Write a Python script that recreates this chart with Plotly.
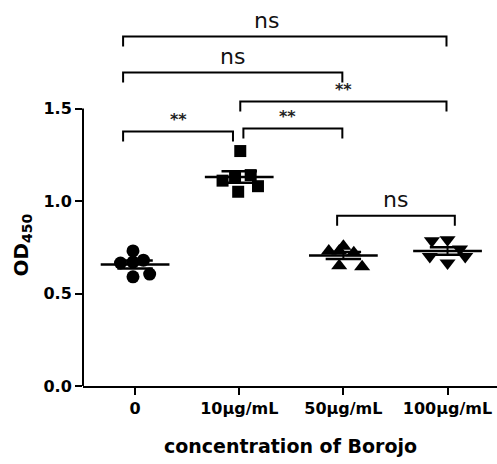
import plotly.graph_objects as go

categories = ["0", "10μg/mL", "50μg/mL", "100μg/mL"]
group0 = [0.73, 0.665, 0.67, 0.68, 0.59, 0.605]
group10 = [1.27, 1.11, 1.14, 1.08, 1.05, 1.13]
group50 = [0.755, 0.73, 0.73, 0.72, 0.65, 0.645]
group100 = [0.785, 0.79, 0.665, 0.74, 0.70, 0.70]
groups = [group0, group10, group50, group100]
jitter = [
    [-0.02, -0.14, -0.02, 0.08, -0.02, 0.14],
    [0.01, -0.16, 0.11, 0.18, -0.01, -0.04],
    [0.0, -0.14, -0.04, 0.1, -0.04, 0.18],
    [-0.15, 0.0, 0.0, 0.12, -0.17, 0.17],
]
symbols = ["circle", "square", "triangle-up", "triangle-down"]
sizes = [13, 12, 14, 14]

# brackets: (left idx, right idx, height, label, left offset, right offset, label x offset)
brackets = [
    (0, 3, 1.889, "ns", -0.115, -0.01, -0.18),
    (0, 2, 1.695, "ns", -0.115, -0.01, 0.0),
    (1, 3, 1.538, "**", 0.01, -0.01, 0.0),
    (0, 1, 1.376, "**", -0.115, -0.06, 0.0),
    (1, 2, 1.392, "**", 0.04, -0.01, -0.05),
    (2, 3, 0.92, "ns", -0.06, 0.07, 0.0),
]
drop = 0.054

FONT = "DejaVu Sans"

fig = go.Figure()
for i, vals in enumerate(groups):
    xs = [i + j for j in jitter[i]]
    fig.add_trace(go.Scatter(x=xs, y=vals, mode="markers",
                             marker=dict(symbol=symbols[i], size=sizes[i], color="black",
                                         line=dict(width=0)),
                             showlegend=False, cliponaxis=False, hoverinfo="skip"))
    n = len(vals)
    mean = sum(vals) / n
    sd = (sum((v - mean) ** 2 for v in vals) / (n - 1)) ** 0.5
    sem = sd / n ** 0.5
    fig.add_shape(type="line", x0=i - 0.33, x1=i + 0.33, y0=mean, y1=mean,
                  line=dict(color="black", width=2.5))
    fig.add_shape(type="line", x0=i, x1=i, y0=mean - sem, y1=mean + sem,
                  line=dict(color="black", width=2))
    for s in (-1, 1):
        fig.add_shape(type="line", x0=i - 0.17, x1=i + 0.17, y0=mean + s * sem, y1=mean + s * sem,
                      line=dict(color="black", width=2.5))

for a, b, h, lab, lo, ro, lx in brackets:
    xa, xb = a + lo, b + ro
    fig.add_shape(type="path",
                  path=f"M {xa},{h - drop} L {xa},{h} L {xb},{h} L {xb},{h - drop}",
                  line=dict(color="black", width=2))
    if lab == "ns":
        fig.add_annotation(x=(xa + xb) / 2 + lx, y=h + 0.01, text="ns", showarrow=False,
                           xanchor="center", yanchor="bottom",
                           font=dict(size=22, color="#111", family=FONT))
    else:
        fig.add_annotation(x=(xa + xb) / 2 + lx, y=h + 0.0, text="<b>**</b>", showarrow=False,
                           xanchor="center", yanchor="bottom",
                           font=dict(size=16, color="#222", family=FONT))

# y axis line
fig.add_shape(type="line", xref="paper", x0=0, x1=0, yref="y", y0=0, y1=1.5,
              line=dict(color="black", width=2))

fig.add_annotation(xref="paper", yref="paper", x=-0.147, y=0.38, text="<b>OD<sub>450</sub></b>",
                   textangle=-90, showarrow=False, xanchor="center", yanchor="middle",
                   font=dict(size=20, color="black", family=FONT))
fig.add_annotation(xref="paper", yref="paper", x=0.5, y=-0.162, text="<b>concentration of Borojo</b>",
                   showarrow=False, xanchor="center", yanchor="middle",
                   font=dict(size=19, color="black", family=FONT))

fig.update_layout(
    width=497, height=464,
    margin=dict(l=83, r=0, t=16, b=78, autoexpand=False),
    plot_bgcolor="white", paper_bgcolor="white",
    font=dict(family=FONT, color="black"),
    xaxis=dict(range=[-0.5, 3.475], tickmode="array", tickvals=[0, 1, 2, 3],
               ticktext=[f"<b>{c}</b>" for c in categories], showline=True, linecolor="black",
               linewidth=2, ticks="outside", ticklen=7, tickwidth=2, tickcolor="black",
               showgrid=False, zeroline=False, automargin=False, tickfont=dict(size=16, color="black")),
    yaxis=dict(range=[0, 2.0], tickmode="array", tickvals=[0, 0.5, 1.0, 1.5],
               ticktext=["<b>0.0</b>", "<b>0.5</b>", "<b>1.0</b>", "<b>1.5</b>"],
               showline=False, ticks="outside", ticklen=7, tickwidth=2, tickcolor="black",
               showgrid=False, zeroline=False, automargin=False, tickfont=dict(size=16, color="black")),
)

fig.write_html("out.html", config={"displayModeBar": False},
               post_script="document.body.style.margin='0';document.body.style.padding='0';")
